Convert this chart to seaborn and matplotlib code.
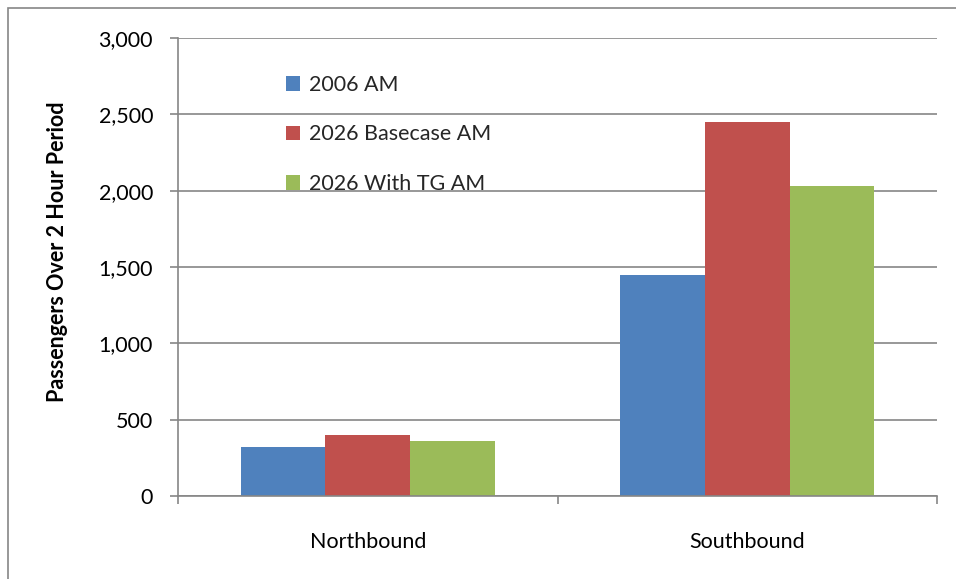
import matplotlib
matplotlib.use("Agg")
import matplotlib.pyplot as plt
import matplotlib.patches as mpatches
import seaborn as sns
import pandas as pd
from matplotlib.ticker import FuncFormatter, FixedLocator

categories = ["Northbound", "Southbound"]
series_names = ["2006 AM", "2026 Basecase AM", "2026 With TG AM"]
values_2006 = [320, 1450]
values_2026_base = [400, 2450]
values_2026_tg = [360, 2030]
colors = ["#4F81BD", "#C0504D", "#9BBB59"]

rows = []
for name, vals in zip(series_names, [values_2006, values_2026_base, values_2026_tg]):
    for c, v in zip(categories, vals):
        rows.append({"Direction": c, "Series": name, "Passengers": v})
df = pd.DataFrame(rows)

sns.set_theme(style="white")
plt.rcParams["font.family"] = ["Lato", "DejaVu Sans"]

FS = 15.5
fig = plt.figure(figsize=(9.56, 5.79), dpi=100)
ax = fig.add_axes([178/956, 1 - 496/579, (937-178)/956, (496-38)/579])

sns.barplot(data=df, x="Direction", y="Passengers", hue="Series",
            palette=colors, width=0.67, ax=ax, edgecolor="none",
            saturation=1, legend=True)

ax.set_xlim(-0.5, 1.5)
ax.set_ylim(0, 3000)
ax.set_yticks([0, 500, 1000, 1500, 2000, 2500, 3000])
ax.yaxis.set_major_formatter(FuncFormatter(lambda v, p: f"{int(v):,}"))
ax.grid(axis="y", color="#868686", linewidth=1.2)
ax.set_axisbelow(True)

ax.set_xlabel("")
ax.set_ylabel("")
fig.text(57/956, 1 - 252/579, "Passengers Over 2 Hour Period", rotation=90,
         ha="center", va="center", fontsize=FS, fontweight="bold", color="black")

for s in ["top", "right"]:
    ax.spines[s].set_visible(False)
for s in ["left", "bottom"]:
    ax.spines[s].set_color("#868686")
    ax.spines[s].set_linewidth(1.2)

ax.tick_params(axis="y", which="major", length=6, width=1.2, color="#868686",
               direction="out", left=True, labelsize=FS, pad=12, labelcolor="black")
ax.tick_params(axis="x", which="major", length=0, labelsize=FS, pad=26, labelcolor="black")
ax.xaxis.set_minor_locator(FixedLocator([-0.5, 0.5, 1.5]))
ax.tick_params(axis="x", which="minor", length=6, width=1.2, color="#868686",
               direction="out", bottom=True)

handles, labels = ax.get_legend_handles_labels()
ax.legend(handles, labels, loc="upper left", bbox_to_anchor=(286/956, 1 - 75/579),
          bbox_transform=fig.transFigure, frameon=False, fontsize=FS,
          handlelength=0.65, handleheight=0.65, handletextpad=0.4,
          labelspacing=1.37, borderaxespad=0, borderpad=0)

border = mpatches.Rectangle((8/956, -0.01), 1.0, 1 - 8/579 + 0.01, transform=fig.transFigure,
                            fill=False, edgecolor="#868686", linewidth=1.2)
fig.patches.append(border)

fig.savefig("out.png", dpi=100)
